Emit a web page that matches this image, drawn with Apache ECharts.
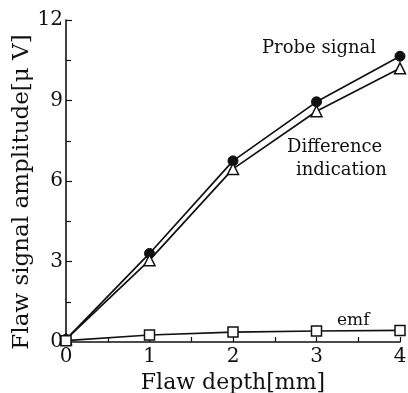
<!DOCTYPE html>
<html>
<head>
<meta charset="utf-8">
<script src="https://cdn.jsdelivr.net/npm/echarts@6/dist/echarts.min.js"></script>
<style>html,body{margin:0;padding:0;background:#fff}#c{width:408px;height:393px}</style>
</head>
<body>
<div id="c"></div>
<script>
const depths = [0, 1, 2, 3, 4];
const probeSignal = [0.1, 3.3, 6.75, 8.95, 10.65];
const differenceIndication = [0.1, 3.05, 6.45, 8.6, 10.2];
const emf = [0.05, 0.26, 0.37, 0.41, 0.43];
const xTicks = [0, 1, 2, 3, 4];
const yTicks = [0, 3, 6, 9, 12];

const FONT = 'DejaVu Serif';
const INK = '#111';
const chart = echarts.init(document.getElementById('c'), null, {renderer: 'canvas'});

function pts(vals) { return depths.map((d, i) => [d, vals[i]]); }

chart.setOption({
  animation: false,
  backgroundColor: '#fff',
  grid: {left: 66, right: 8, top: 20, bottom: 51, containLabel: false, outerBoundsMode: 'none'},
  xAxis: {
    type: 'value', min: xTicks[0], max: xTicks[xTicks.length - 1], interval: 1,
    name: 'Flaw depth[mm]', nameLocation: 'middle', nameGap: 26,
    nameTextStyle: {fontFamily: FONT, fontSize: 22, color: INK},
    axisLine: {show: true, lineStyle: {color: INK, width: 1.6}},
    axisTick: {show: true, inside: true, length: 5, lineStyle: {color: INK, width: 1.2}},
    minorTick: {show: true, splitNumber: 2, length: 5, lineStyle: {color: INK, width: 1.2}},
    axisLabel: {fontFamily: FONT, fontSize: 20, color: INK, margin: 5},
    splitLine: {show: false}
  },
  yAxis: {
    type: 'value', min: yTicks[0], max: yTicks[yTicks.length - 1], interval: 3,
    name: 'Flaw signal amplitude[\u03bc V]', nameLocation: 'middle', nameGap: 32,
    nameMoveOverlap: false,
    nameTextStyle: {fontFamily: FONT, fontSize: 23, color: INK, padding: [0, 22, 0, 0]},
    axisLine: {show: true, lineStyle: {color: INK, width: 1.6}},
    axisTick: {show: true, inside: true, length: 6, lineStyle: {color: INK, width: 1.2}},
    minorTick: {show: true, splitNumber: 2, length: 5, lineStyle: {color: INK, width: 1.2}},
    axisLabel: {fontFamily: FONT, fontSize: 20, color: INK, margin: 3},
    splitLine: {show: false}
  },
  series: [
    {
      name: 'Probe signal', type: 'line', data: pts(probeSignal),
      symbol: 'circle', symbolSize: 10,
      lineStyle: {color: INK, width: 1.7},
      itemStyle: {color: INK, borderColor: INK, borderWidth: 1}, z: 3
    },
    {
      name: 'Difference indication', type: 'line', data: pts(differenceIndication),
      symbol: 'triangle', symbolSize: 11,
      lineStyle: {color: INK, width: 1.7},
      itemStyle: {color: '#fff', borderColor: INK, borderWidth: 1.5}, z: 4
    },
    {
      name: 'emf', type: 'line', data: pts(emf),
      symbol: 'rect', symbolSize: 10,
      lineStyle: {color: INK, width: 1.7},
      itemStyle: {color: '#fff', borderColor: INK, borderWidth: 1.5}, z: 4
    }
  ],
  graphic: [
    {type: 'text', left: 262, top: 39, style: {text: 'Probe signal', fontFamily: FONT, fontSize: 18, fill: INK}},
    {type: 'text', left: 287, top: 138, style: {text: 'Difference', fontFamily: FONT, fontSize: 18, fill: INK}},
    {type: 'text', left: 296, top: 161, style: {text: 'indication', fontFamily: FONT, fontSize: 18, fill: INK}},
    {type: 'text', left: 337, top: 312, style: {text: 'emf', fontFamily: FONT, fontSize: 17, fill: INK}}
  ]
});
</script>
</body>
</html>
